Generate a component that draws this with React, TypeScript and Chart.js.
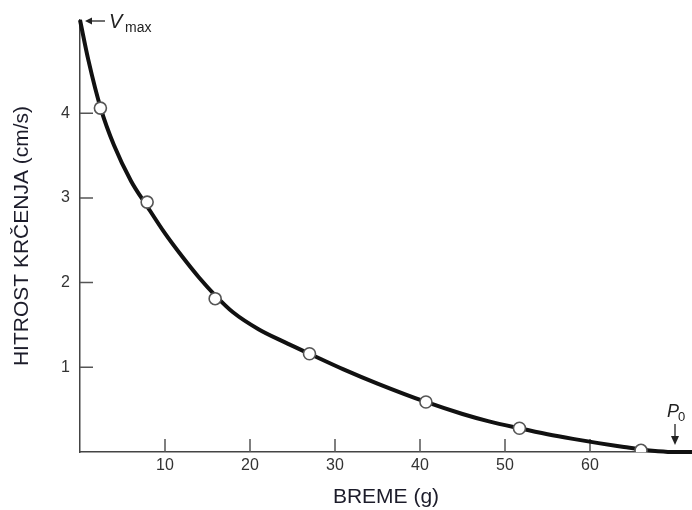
import React, { useEffect, useRef } from "react";
import { Chart, registerables } from "chart.js";

Chart.register(...registerables);

// Measured data points (load in g, shortening velocity in cm/s)
const pointLoads = [2.4, 7.9, 15.9, 27.0, 40.7, 51.7, 66.0];
const pointSpeeds = [4.06, 2.95, 1.81, 1.16, 0.59, 0.28, 0.02];

// Fitted curve
const curveLoads = [0, 1, 2.43, 4, 6, 7.9, 10, 12, 14, 15.9, 18, 21, 24, 27, 31, 35, 40.7, 45, 48, 51.7, 55, 58, 61, 64, 66, 68, 70, 72];
const curveSpeeds = [5.1, 4.62, 4.06, 3.62, 3.2, 2.9, 2.58, 2.31, 2.06, 1.85, 1.65, 1.45, 1.3, 1.16, 0.976, 0.808, 0.591, 0.449, 0.365, 0.28, 0.21, 0.155, 0.105, 0.06, 0.03, 0.01, 0, 0];

const xTicks = [10, 20, 30, 40, 50, 60];
const yTicks = [1, 2, 3, 4];
const xRange = [0, 72];
const yRange = [0, 5.1];
const vMax = 5.1;
const pZero = 70;

const FONT = "'Liberation Sans', Arial, Helvetica, sans-serif";

export default function App() {
  const ref = useRef<HTMLCanvasElement | null>(null);

  useEffect(() => {
    if (!ref.current) return;

    const innerTicks = {
      id: "innerTicks",
      beforeDatasetsDraw(chart: any) {
        const ctx = chart.ctx;
        const xs = chart.scales.x;
        const ys = chart.scales.y;
        ctx.save();
        ctx.strokeStyle = "#555";
        ctx.lineWidth = 1.5;
        ctx.beginPath();
        xTicks.forEach((v) => {
          const px = xs.getPixelForValue(v);
          ctx.moveTo(px, ys.bottom);
          ctx.lineTo(px, ys.bottom - 13);
        });
        yTicks.forEach((v) => {
          const py = ys.getPixelForValue(v);
          ctx.moveTo(xs.left, py);
          ctx.lineTo(xs.left + 13, py);
        });
        ctx.stroke();
        ctx.restore();
      },
    };

    const annotations = {
      id: "annotations",
      afterDraw(chart: any) {
        const ctx = chart.ctx;
        const xs = chart.scales.x;
        const ys = chart.scales.y;
        ctx.save();
        ctx.fillStyle = "#222";
        ctx.strokeStyle = "#222";
        ctx.lineWidth = 1.3;
        // V max arrow
        const vx = xs.getPixelForValue(0) + 5;
        const vy = ys.getPixelForValue(vMax) + 1;
        ctx.beginPath();
        ctx.moveTo(vx + 3, vy);
        ctx.lineTo(vx + 20, vy);
        ctx.stroke();
        ctx.beginPath();
        ctx.moveTo(vx, vy);
        ctx.lineTo(vx + 7, vy - 3.5);
        ctx.lineTo(vx + 7, vy + 3.5);
        ctx.closePath();
        ctx.fill();
        ctx.textBaseline = "alphabetic";
        ctx.textAlign = "left";
        ctx.font = `italic 20px ${FONT}`;
        ctx.fillText("V", vx + 24, vy + 7);
        ctx.font = `14px ${FONT}`;
        ctx.fillText("max", vx + 40, vy + 11);
        // P0 arrow
        const px = xs.getPixelForValue(pZero);
        const py = ys.getPixelForValue(0);
        ctx.beginPath();
        ctx.moveTo(px, py - 28);
        ctx.lineTo(px, py - 14);
        ctx.stroke();
        ctx.beginPath();
        ctx.moveTo(px, py - 7);
        ctx.lineTo(px - 4, py - 16);
        ctx.lineTo(px + 4, py - 16);
        ctx.closePath();
        ctx.fill();
        ctx.font = `italic 18px ${FONT}`;
        ctx.fillText("P", px - 8, py - 35);
        ctx.font = `13px ${FONT}`;
        ctx.fillText("0", px + 3, py - 31);
        ctx.restore();
      },
    };

    const chart = new Chart(ref.current, {
      type: "scatter",
      data: {
        datasets: [
          {
            label: "points",
            data: pointLoads.map((x, i) => ({ x, y: pointSpeeds[i] })),
            showLine: false,
            pointRadius: 6,
            pointBackgroundColor: "#ffffff",
            pointBorderColor: "#555555",
            pointBorderWidth: 1.6,
          },
          {
            label: "curve",
            data: curveLoads.map((x, i) => ({ x, y: curveSpeeds[i] })),
            showLine: true,
            cubicInterpolationMode: "monotone",
            borderColor: "#111111",
            borderWidth: 4,
            pointRadius: 0,
            clip: false as any,
          },
        ],
      },
      options: {
        animation: false,
        responsive: false,
        maintainAspectRatio: false,
        layout: { autoPadding: false, padding: { top: 20, right: 0, bottom: 0, left: 0 } },
        plugins: {
          legend: { display: false },
          tooltip: { enabled: false },
        },
        scales: {
          x: {
            type: "linear",
            min: xRange[0],
            max: xRange[1],
            afterFit(scale: any) {
              scale.height = 58;
            },
            afterBuildTicks(scale: any) {
              scale.ticks = xTicks.map((value) => ({ value }));
            },
            grid: { display: false, drawTicks: false },
            border: { display: true, color: "#444", width: 1.5 },
            ticks: {
              padding: 4,
              color: "#333",
              font: { family: FONT, size: 16 },
              maxRotation: 0,
            },
            title: {
              display: true,
              text: "BREME (g)",
              color: "#1c1c2a",
              font: { family: FONT, size: 21 },
              padding: { top: 0, bottom: 0 },
            },
          },
          y: {
            type: "linear",
            min: yRange[0],
            max: yRange[1],
            afterFit(scale: any) {
              scale.width = 80;
            },
            afterBuildTicks(scale: any) {
              scale.ticks = yTicks.map((value) => ({ value }));
            },
            grid: { display: false, drawTicks: false },
            border: { display: true, color: "#444", width: 1.5 },
            ticks: {
              padding: 10,
              color: "#333",
              font: { family: FONT, size: 16 },
            },
            title: {
              display: true,
              text: "HITROST KRČENJA (cm/s)",
              color: "#1c1c2a",
              font: { family: FONT, size: 21 },
              padding: { top: 10, bottom: 0 },
            },
          },
        },
      },
      plugins: [innerTicks, annotations],
    } as any);

    return () => chart.destroy();
  }, []);

  return (
    <div style={{ position: "fixed", left: 0, top: 0, width: 692, height: 510, background: "#fff" }}>
      <canvas ref={ref} width={692} height={510} style={{ width: 692, height: 510 }} />
    </div>
  );
}
